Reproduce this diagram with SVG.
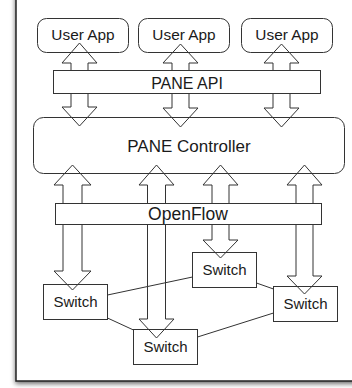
<svg xmlns="http://www.w3.org/2000/svg" width="352" height="388" viewBox="0 0 352 388">
<defs>
<filter id="sh" x="-10%" y="-10%" width="120%" height="120%">
<feDropShadow dx="0" dy="2" stdDeviation="2.5" flood-color="#000" flood-opacity="0.6"/>
</filter>
<style>
.box{fill:#fff;stroke:#333;stroke-width:1}
.arr{fill:none;stroke:#333;stroke-width:1}
.ln{stroke:#333;stroke-width:1;fill:none}
text{font-family:"Liberation Sans",Arial,sans-serif;fill:#1a1a1a;text-anchor:middle}
</style>
</defs>
<rect x="0" y="0" width="352" height="388" fill="#fff"/>
<rect id="frame" x="16" y="-20" width="360" height="401" fill="#fff" stroke="#222" stroke-width="1.5" filter="url(#sh)"/>

<g id="app1"><rect class="box" x="37.5" y="18.5" width="91" height="34" rx="9"/><text x="83" y="40" font-size="15.4">User App</text></g>
<g id="app2"><rect class="box" x="138.5" y="18.5" width="91" height="34" rx="9"/><text x="184" y="40" font-size="15.4">User App</text></g>
<g id="app3"><rect class="box" x="241.5" y="18.5" width="91" height="34" rx="9"/><text x="287" y="40" font-size="15.4">User App</text></g>

<g id="controller"><rect class="box" x="33.5" y="117.5" width="311" height="56" rx="10"/><text x="189" y="152" font-size="17">PANE Controller</text></g>

<g id="sw1"><rect class="box" x="43.5" y="284.5" width="64" height="35"/><text x="75.5" y="307" font-size="15">Switch</text></g>
<g id="sw2"><rect class="box" x="192.5" y="252.5" width="64" height="35"/><text x="224.5" y="275" font-size="15">Switch</text></g>
<g id="sw3"><rect class="box" x="273.5" y="286.5" width="64" height="35"/><text x="305.5" y="309" font-size="15">Switch</text></g>
<g id="sw4"><rect class="box" x="133.5" y="329.5" width="64" height="35"/><text x="165.5" y="352" font-size="15">Switch</text></g>

<g id="connectors">
<path class="arr" d="M79.5,43 L97,63 L88,63 L88,107 L97,107 L79.5,126 L62,107 L71,107 L71,63 L62,63 Z"/>
<path class="arr" d="M180.5,44 L198,63 L189,63 L189,108 L198,108 L180.5,127 L163,108 L172,108 L172,63 L163,63 Z"/>
<path class="arr" d="M281.5,44 L299,63 L290,63 L290,108 L299,108 L281.5,127 L264,108 L273,108 L273,63 L264,63 Z"/>
<path class="arr" d="M72.5,165 L91,185 L82,185 L82,271 L91,271 L72.5,290 L54,271 L63,271 L63,185 L54,185 Z"/>
<path class="arr" d="M156.5,165 L174,185 L165.5,185 L165.5,319 L174,319 L156.5,338 L139,319 L147.5,319 L147.5,185 L139,185 Z"/>
<path class="arr" d="M220.5,165 L238,185 L229,185 L229,240 L238,240 L220.5,258 L203,240 L212,240 L212,185 L203,185 Z"/>
<path class="arr" d="M304.5,165 L322,185 L313,185 L313,276 L322,276 L304.5,294 L287,276 L296,276 L296,185 L287,185 Z"/>
<line class="ln" x1="107.5" y1="295" x2="192.5" y2="277"/>
<line class="ln" x1="107.5" y1="318" x2="133.5" y2="330"/>
<line class="ln" x1="256.5" y1="283" x2="273.5" y2="289"/>
<line class="ln" x1="197.5" y1="337" x2="273.5" y2="313"/>
</g>

<g id="paneapi"><rect class="box" x="53.5" y="70.5" width="267" height="23"/><text x="187" y="89" font-size="16">PANE API</text></g>
<g id="openflow"><rect class="box" x="55.5" y="203.5" width="266" height="21"/><text x="188" y="220" font-size="17.5">OpenFlow</text></g>
</svg>
